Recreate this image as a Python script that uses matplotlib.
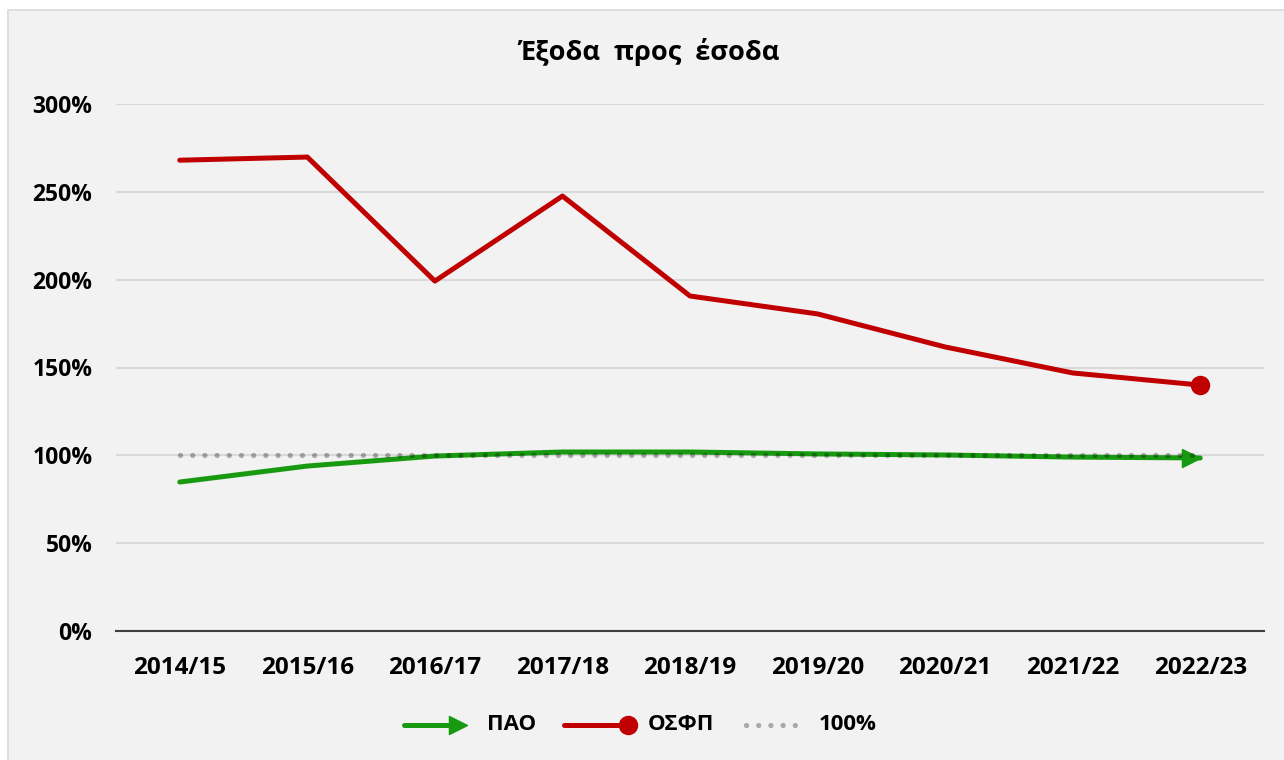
import matplotlib
matplotlib.use("Agg")
import matplotlib.pyplot as plt
from matplotlib.patches import Rectangle
from matplotlib.lines import Line2D
from matplotlib.path import Path

plt.rcParams['font.family'] = ['Open Sans', 'DejaVu Sans']

years = ["2014/15", "2015/16", "2016/17", "2017/18", "2018/19",
         "2019/20", "2020/21", "2021/22", "2022/23"]
pao = [84.8, 93.9, 99.6, 101.9, 101.9, 100.8, 100.2, 99.0, 98.5]
osfp = [268.0, 269.8, 199.2, 247.6, 190.7, 180.5, 161.7, 146.9, 140.0]
ref = [100] * len(years)

bg = '#f2f2f2'
green = '#189a10'
red = '#c00000'
W, H = 1284, 760

# arrow head with its tip at the data point
arrow = Path([(-1, -0.5), (0, 0), (-1, 0.5), (-1, -0.5)],
             [Path.MOVETO, Path.LINETO, Path.LINETO, Path.CLOSEPOLY])


def px(x, y):
    return x / W, 1 - y / H


fig = plt.figure(figsize=(W / 100, H / 100), dpi=100, facecolor='white')
x0, y0 = px(8, 800)
fig.add_artist(Rectangle((x0, y0), 1.1, px(0, 10)[1] - y0, transform=fig.transFigure,
                         facecolor=bg, edgecolor='#d9d9d9', lw=1.2, zorder=-5))
ax = fig.add_axes([116 / W, 129 / H, 1148 / W, 527 / H])
ax.set_facecolor(bg)

lw = 3.6
x = list(range(len(years)))
ax.plot(x, pao, color=green, lw=lw, solid_capstyle='round', zorder=3)
ax.plot(x[-1], pao[-1], marker=arrow, color=green, ms=26, zorder=3)
ax.plot(x, osfp, color=red, lw=lw, solid_capstyle='round', zorder=3)
ax.plot(x[-1], osfp[-1], marker='o', color=red, ms=13, zorder=3)
ax.plot(x, ref, color='black', lw=3.8, ls=(0, (0.01, 2.3)), dash_capstyle='round',
        alpha=0.3, zorder=4)

ax.set_xlim(-0.5, len(years) - 0.5)
ax.set_ylim(0, 300)
ax.set_yticks(range(0, 301, 50))
ax.set_yticklabels([f"{v}%" for v in range(0, 301, 50)])
ax.set_xticks(x)
ax.set_xticklabels(years)
ax.grid(axis='y', color='#d9d9d9', lw=1.5)
ax.set_axisbelow(True)
for s in ['top', 'right', 'left']:
    ax.spines[s].set_visible(False)
ax.spines['bottom'].set_color('#3f3f3f')
ax.spines['bottom'].set_linewidth(1.5)
ax.tick_params(length=0, labelsize=16.5)
ax.tick_params(axis='x', pad=18, labelsize=17.5)
ax.tick_params(axis='y', pad=17)
for lab in ax.get_xticklabels() + ax.get_yticklabels():
    lab.set_fontweight('bold')

fig.text(*px(649, 52), "Έξοδα  προς  έσοδα", ha='center', va='center',
         fontsize=19.5, fontweight='bold')

# legend drawn by hand so the markers sit at the end of each sample line
ly = 725
fig.add_artist(Line2D(*zip(px(404, ly), px(455, ly)), color=green, lw=lw,
                      solid_capstyle='round'))
fig.add_artist(Line2D([px(467, ly)[0]], [px(467, ly)[1]], marker=arrow, ms=26,
                      color=green, lw=0))
fig.add_artist(Line2D(*zip(px(564, ly), px(628, ly)), color=red, lw=lw,
                      solid_capstyle='round'))
fig.add_artist(Line2D([px(628, ly)[0]], [px(628, ly)[1]], marker='o', ms=13,
                      color=red, lw=0))
fig.add_artist(Line2D(*zip(px(746, ly), px(803, ly)), color='black', alpha=0.3,
                      lw=3.8, ls=(0, (0.01, 2.3)), dash_capstyle='round'))
for xt, txt in [(487, "ΠΑΟ"), (648, "ΟΣΦΠ"), (819, "100%")]:
    fig.text(*px(xt, ly), txt, ha='left', va='center', fontsize=16,
             fontweight='bold')

fig.savefig("out.png", dpi=100, facecolor='white')
